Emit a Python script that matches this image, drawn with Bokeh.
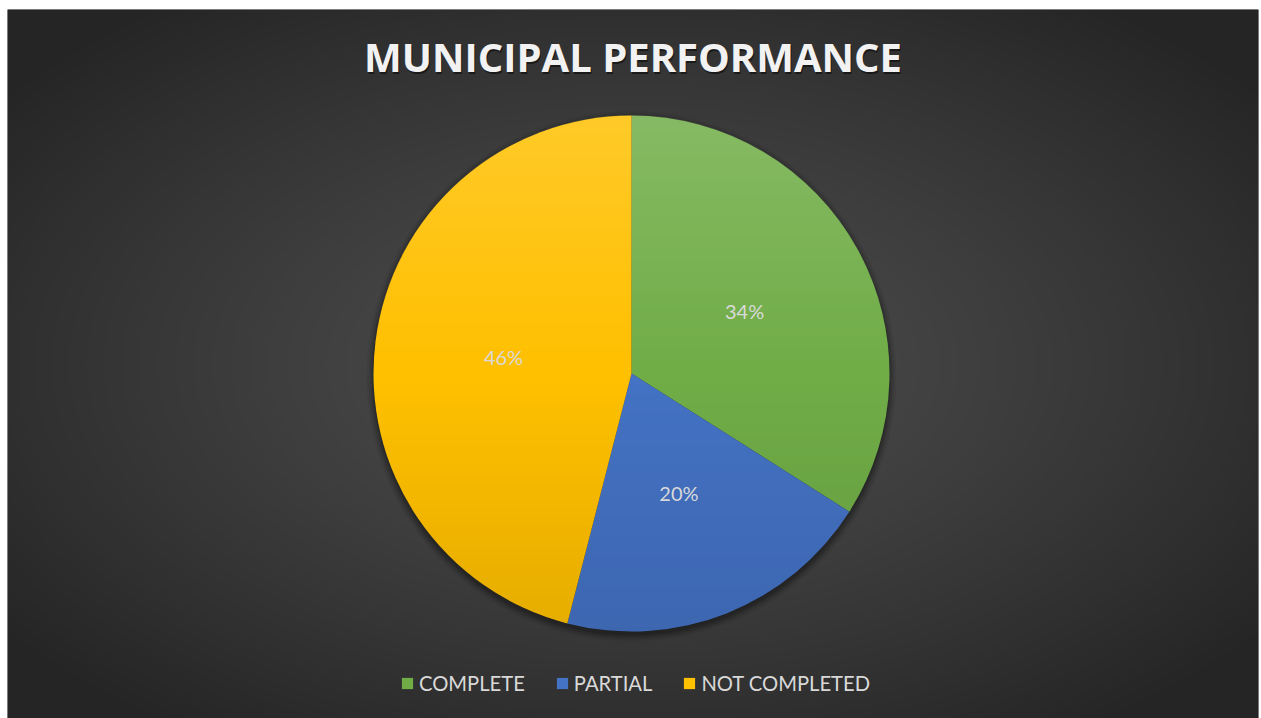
import numpy as np
from math import pi
from bokeh.plotting import figure
from bokeh.models import Range1d, ColumnDataSource, Legend, LegendItem
from bokeh.core.properties import value
from bokeh.embed import file_html
from bokeh.resources import INLINE

# ---- data ----
categories = ["COMPLETE", "PARTIAL", "NOT COMPLETED"]
shares = [34, 20, 46]
labels = ["34%", "20%", "46%"]
colors = ["#70AD47", "#4472C4", "#FFC000"]
title_text = "MUNICIPAL PERFORMANCE"

# ---- layout ----
W, H = 1261, 718
FW, FH = 1251, 709          # frame size
CX, CY, R = 624, 345, 258   # pie centre/radius in frame coords

p = figure(width=W, height=H, output_backend="svg", toolbar_location=None,
           x_range=Range1d(0, FW), y_range=Range1d(0, FH),
           min_border_left=7, min_border_top=9, min_border_right=3, min_border_bottom=0)
p.axis.visible = False
p.grid.visible = False
p.outline_line_color = None
p.border_fill_color = "white"
p.background_fill_color = "#333333"

# radial background gradient
nx, ny = 626, 355
xx, yy = np.meshgrid(np.linspace(0, 1, nx), np.linspace(0, 1, ny))
d = np.sqrt(((xx - 0.5) / 0.64) ** 2 + ((yy - 0.5) / 0.64) ** 2)
d = np.clip(d, 0, 1) ** 1.2
c_in, c_out = 0x4e, 0x25
v = (c_in + (c_out - c_in) * d).astype(np.uint32)
img = (255 << 24) | (v << 16) | (v << 8) | v
p.image_rgba(image=[img], x=0, y=0, dw=FW, dh=FH)

# pie angles (clockwise from top)
frac = np.array(shares, dtype=float) / sum(shares)
cum = np.concatenate([[0], np.cumsum(frac)])
start = pi / 2 - cum[1:] * 2 * pi
end = pi / 2 - cum[:-1] * 2 * pi
mid = (start + end) / 2
src = ColumnDataSource(dict(cat=categories, start=start, end=end, color=colors,
                            lab=labels,
                            lx=CX + 0.5 * R * np.cos(mid),
                            ly=CY + 0.5 * R * np.sin(mid)))

# soft shadow
for k, a in [(7, 0.05), (5, 0.08), (3, 0.12), (1, 0.15)]:
    p.circle(x=CX, y=CY - 3, radius=R + k, fill_color="black", fill_alpha=a, line_color=None)

w = p.wedge(x=CX, y=CY, radius=R, start_angle="start", end_angle="end",
            fill_color="color", line_color=None, source=src)

# vertical shading overlay on the pie (lighter top, darker bottom)
n = 2 * R
gx, gy = np.meshgrid(np.arange(n) + 0.5, np.arange(n) + 0.5)  # gy from bottom
dist = np.sqrt((gx - R) ** 2 + (gy - R) ** 2)
mask = np.clip(R - dist + 0.5, 0, 1)
t = gy / n  # 0 bottom, 1 top
white = t > 0.5
a_w = (t - 0.5) * 2 * 0.16
a_b = (0.5 - t) * 2 * 0.10
alpha = np.where(white, a_w, a_b) * mask
col = np.where(white, 255, 0).astype(np.uint32)
A = (alpha * 255).astype(np.uint32)
rgba = (A << 24) | (col << 16) | (col << 8) | col
p.image_rgba(image=[rgba], x=CX - R, y=CY - R, dw=n, dh=n)

p.text(x="lx", y="ly", text="lab", source=src, text_align="center", text_baseline="middle",
       text_color="#D9D9D9", text_font=value("Lato"), text_font_size="20px")

# title with shadow
p.text(x=[FW / 2 + 1], y=[662 - 2], text=[title_text], text_align="center", text_baseline="middle",
       text_color="black", text_alpha=0.5, text_font=value("Open Sans"),
       text_font_style="bold", text_font_size="40px")
p.text(x=[FW / 2], y=[662], text=[title_text], text_align="center", text_baseline="middle",
       text_color="#F2F2F2", text_font=value("Open Sans"),
       text_font_style="bold", text_font_size="40px")

legend = Legend(items=[LegendItem(label=c, renderers=[w], index=i) for i, c in enumerate(categories)],
                orientation="horizontal", location=(393, 23),
                background_fill_alpha=0, border_line_alpha=0,
                label_text_color="#D9D9D9", label_text_font="Lato", label_text_font_size="20.2px",
                glyph_width=14, glyph_height=14, label_standoff=5, spacing=30,
                padding=0, margin=0)
p.add_layout(legend, "center")

open("out.html", "w").write(file_html(p, INLINE))
